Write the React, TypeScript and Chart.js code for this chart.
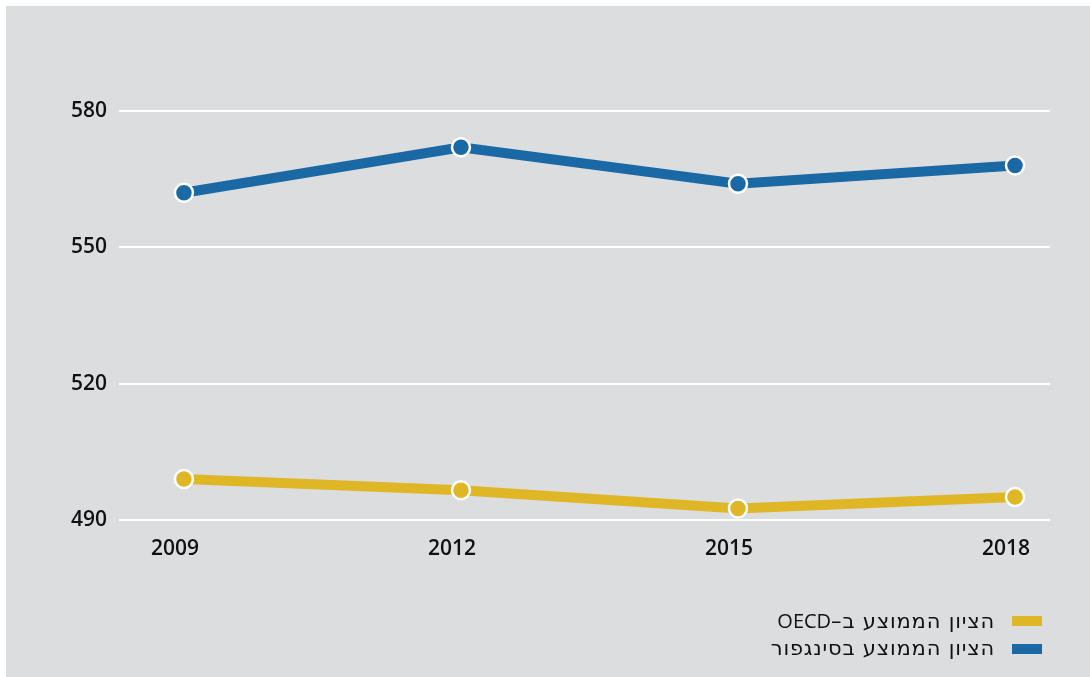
import React, { useEffect, useRef } from "react";
import { Chart, registerables } from "chart.js";

Chart.register(...registerables);

const years = [2009, 2012, 2015, 2018];
const singapore = [562, 572, 564, 568];
const oecd = [499, 496.5, 492.5, 495];
const yTicks = [490, 520, 550, 580];
const legendHebrew = ["הציון הממוצע ב–", "הציון הממוצע בסינגפור"];
const legendLatin = ["OECD", ""];
const seriesLabels = ["הציון הממוצע ב–OECD", "הציון הממוצע בסינגפור"];
const colors = ["#dfb626", "#1b69a4"];

export default function App() {
  const ref = useRef<HTMLCanvasElement | null>(null);

  useEffect(() => {
    if (!ref.current) return;
    const font = { family: "'Open Sans', 'DejaVu Sans', sans-serif", size: 21, weight: 600 as any };
    const chart = new Chart(ref.current, {
      type: "line",
      data: {
        datasets: [
          {
            label: seriesLabels[1],
            data: years.map((x, i) => ({ x, y: singapore[i] })),
            borderColor: colors[1],
            backgroundColor: colors[1],
            borderWidth: 10,
            pointRadius: 9,
            pointBorderWidth: 2.5,
            pointBorderColor: "#ffffff",
            pointBackgroundColor: colors[1],
            tension: 0,
          },
          {
            label: seriesLabels[0],
            data: years.map((x, i) => ({ x, y: oecd[i] })),
            borderColor: colors[0],
            backgroundColor: colors[0],
            borderWidth: 10,
            pointRadius: 9,
            pointBorderWidth: 2.5,
            pointBorderColor: "#ffffff",
            pointBackgroundColor: colors[0],
            tension: 0,
          },
        ],
      },
      options: {
        animation: false,
        responsive: false,
        maintainAspectRatio: false,
        layout: { padding: { left: 53, right: 40, top: 105, bottom: 98 } },
        plugins: { legend: { display: false }, tooltip: { enabled: false } },
        scales: {
          x: {
            type: "linear",
            min: 2008.297,
            max: 2018.379,
            afterBuildTicks: (axis: any) => {
              axis.ticks = years.map((v) => ({ value: v }));
            },
            grid: { display: false, drawTicks: false },
            border: { display: false },
            ticks: {
              font,
              color: "#111111",
              padding: 17,
              labelOffset: -9,
              maxRotation: 0,
              autoSkip: false,
              callback: (v: any) => String(v),
            },
          },
          y: {
            min: 490,
            max: 580,
            afterBuildTicks: (axis: any) => {
              axis.ticks = yTicks.map((v) => ({ value: v }));
            },
            grid: { color: "#ffffff", lineWidth: 2, drawTicks: false },
            border: { display: false },
            ticks: {
              font,
              color: "#111111",
              padding: 12,
              callback: (v: any) => String(v),
            },
          },
        },
      },
    });
    return () => chart.destroy();
  }, []);

  return (
    <div
      style={{
        position: "absolute",
        left: 6,
        top: 6,
        width: 1084,
        height: 671,
        background: "#dcdddf",
      }}
    >
      <canvas ref={ref} width={1084} height={671} style={{ display: "block" }} />
      <div
        style={{
          position: "absolute",
          right: 48,
          top: 601,
          direction: "rtl",
          fontSize: 20,
          color: "#111111",
          lineHeight: "27px",
        }}
      >
        {[0, 1].map((i) => (
          <div key={i} style={{ display: "flex", alignItems: "center" }}>
            <span
              style={{
                display: "inline-block",
                width: 30,
                height: 10,
                background: colors[i],
                marginLeft: 17,
              }}
            />
            <span>
              <span
                style={{
                  fontFamily: "'DejaVu Sans', sans-serif",
                  fontSize: 21,
                  letterSpacing: "0.8px",
                }}
              >
                {legendHebrew[i]}
              </span>
              {legendLatin[i] ? (
                <span style={{ fontFamily: "'Open Sans', sans-serif" }}>{legendLatin[i]}</span>
              ) : null}
            </span>
          </div>
        ))}
      </div>
    </div>
  );
}
